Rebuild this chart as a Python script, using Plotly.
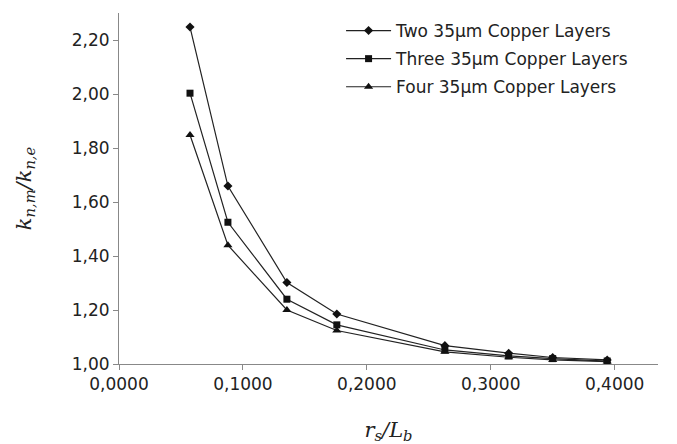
import plotly.graph_objects as go

x_vals = [0.0573, 0.0879, 0.1355, 0.1758, 0.2630, 0.3145, 0.3500, 0.3940]
two_layers = [2.248, 1.659, 1.302, 1.185, 1.068, 1.040, 1.024, 1.015]
three_layers = [2.003, 1.525, 1.240, 1.145, 1.052, 1.030, 1.020, 1.011]
four_layers = [1.848, 1.440, 1.200, 1.124, 1.045, 1.025, 1.015, 1.009]

names = ["Two 35µm Copper Layers", "Three 35µm Copper Layers", "Four 35µm Copper Layers"]
symbols = ["diamond", "square", "triangle-up"]
sizes = [7, 7, 8]

x_ticks = [0.0, 0.1, 0.2, 0.3, 0.4]
x_tick_text = ["0,0000", "0,1000", "0,2000", "0,3000", "0,4000"]
y_ticks = [1.0, 1.2, 1.4, 1.6, 1.8, 2.0, 2.2]
y_tick_text = ["1,00", "1,20", "1,40", "1,60", "1,80", "2,00", "2,20"]

fig = go.Figure()
for i, (name, ys, sym, sz) in enumerate(zip(names, [two_layers, three_layers, four_layers], symbols, sizes)):
    fig.add_trace(go.Scatter(
        x=x_vals, y=ys, name=name, mode="lines+markers", legendgroup=f"g{i}",
        line=dict(color="#222222", width=1.2),
        marker=dict(symbol=sym, size=sz, color="#111111"),
    ))

tick_font = dict(family="DejaVu Sans", size=17, color="#222222")
fig.update_layout(
    width=669, height=436,
    margin=dict(l=111, r=19, t=5, b=80),
    paper_bgcolor="white", plot_bgcolor="white",
    showlegend=True,
    legend=dict(x=0.412, y=1.0, xanchor="left", yanchor="top",
                font=dict(family="DejaVu Sans", size=17, color="#222222"),
                bgcolor="rgba(0,0,0,0)", tracegroupgap=3, itemwidth=45),
    xaxis=dict(range=[0, 0.435], tickvals=x_ticks, ticktext=x_tick_text, automargin=False,
               showgrid=False, zeroline=False, showline=True, linecolor="#888888", linewidth=1,
               ticks="outside", ticklen=5, tickcolor="#888888", tickfont=tick_font,
               title=dict(text="<i>r</i><sub><i>s</i></sub><i>/L</i><sub><i>b</i></sub>",
                          font=dict(family="DejaVu Serif", size=21, color="#222222"), standoff=28)),
    yaxis=dict(range=[1.0, 2.3], tickvals=y_ticks, ticktext=y_tick_text, automargin=False,
               showgrid=False, zeroline=False, showline=True, linecolor="#888888", linewidth=1,
               ticks="outside", ticklen=5, tickcolor="#888888", tickfont=tick_font,
               title=dict(text="<i>k</i><sub><i>n,m</i></sub><i>/k</i><sub><i>n,e</i></sub>",
                          font=dict(family="DejaVu Serif", size=21, color="#222222"), standoff=34)),
)

fig.write_html("out.html")
